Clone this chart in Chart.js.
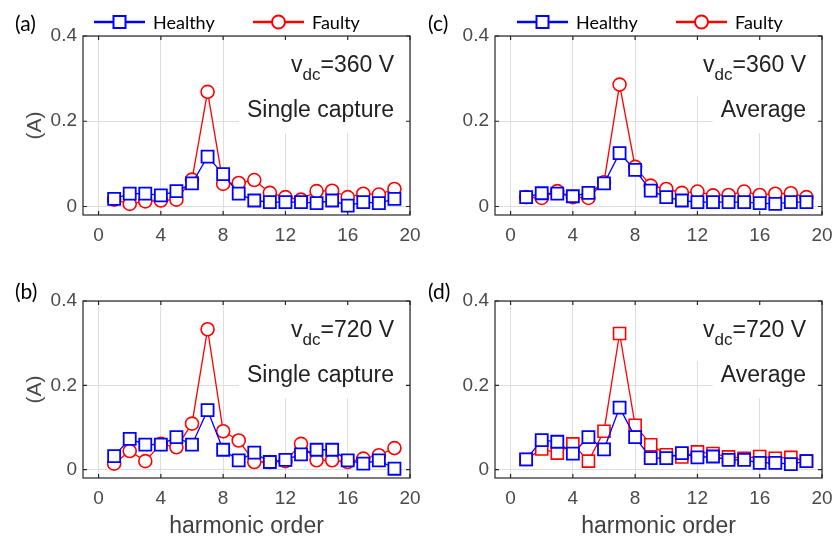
<!DOCTYPE html>
<html>
<head>
<meta charset="utf-8">
<script src="https://cdn.jsdelivr.net/npm/chart.js@4/dist/chart.umd.min.js"></script>
<style>
  body { margin: 0; background: #fff; width: 835px; height: 539px; position: relative; overflow: hidden; }
  canvas { position: absolute; }
</style>
</head>
<body>
<canvas id="pa" width="430" height="260" style="left:0;top:0;width:430px;height:260px"></canvas>
<canvas id="pb" width="430" height="279" style="left:0;top:260px;width:430px;height:279px"></canvas>
<canvas id="pc" width="420" height="260" style="left:415px;top:0;width:420px;height:260px"></canvas>
<canvas id="pd" width="420" height="279" style="left:415px;top:260px;width:420px;height:279px"></canvas>
<script>
// data
const harmonics = [1, 2, 3, 4, 5, 6, 7, 8, 9, 10, 11, 12, 13, 14, 15, 16, 17, 18, 19];
const xTickVals = [0, 4, 8, 12, 16, 20];
const yTickVals = [0, 0.2, 0.4];
const seriesNames = ['Healthy', 'Faulty'];

// (a) vdc=360 V, single capture
const healthyA = [0.018, 0.030, 0.030, 0.026, 0.036, 0.054, 0.117, 0.076, 0.030, 0.014, 0.010, 0.010, 0.010, 0.008, 0.014, 0.002, 0.010, 0.008, 0.018];
const faultyA  = [0.016, 0.006, 0.012, 0.014, 0.016, 0.063, 0.269, 0.053, 0.055, 0.062, 0.032, 0.022, 0.016, 0.036, 0.037, 0.022, 0.030, 0.028, 0.041];
// (c) vdc=360 V, average
const healthyC = [0.022, 0.031, 0.030, 0.024, 0.032, 0.054, 0.125, 0.086, 0.037, 0.022, 0.014, 0.010, 0.010, 0.010, 0.010, 0.008, 0.006, 0.010, 0.010];
const faultyC  = [0.022, 0.020, 0.036, 0.022, 0.020, 0.057, 0.286, 0.093, 0.049, 0.041, 0.032, 0.035, 0.026, 0.027, 0.035, 0.027, 0.030, 0.031, 0.022];
// (b) vdc=720 V, single capture
const healthyB = [0.032, 0.073, 0.059, 0.059, 0.077, 0.059, 0.141, 0.047, 0.022, 0.040, 0.018, 0.023, 0.036, 0.047, 0.047, 0.022, 0.014, 0.022, 0.002];
const faultyB  = [0.014, 0.044, 0.020, 0.061, 0.053, 0.109, 0.333, 0.091, 0.069, 0.018, 0.018, 0.020, 0.061, 0.022, 0.022, 0.018, 0.026, 0.034, 0.051];
// (d) vdc=720 V, average
const healthyD = [0.024, 0.070, 0.066, 0.038, 0.077, 0.048, 0.147, 0.077, 0.027, 0.027, 0.039, 0.029, 0.031, 0.023, 0.023, 0.016, 0.016, 0.013, 0.020];
const faultyD  = [0.024, 0.049, 0.039, 0.061, 0.020, 0.091, 0.323, 0.105, 0.059, 0.035, 0.030, 0.042, 0.038, 0.030, 0.027, 0.031, 0.027, 0.029, 0.020];

const panels = [
  { id: 'pa', letter: '(a)', healthy: healthyA, faulty: faultyA, faultyMarker: 'circle', vdc: '=360 V', mode: 'Single capture',
    top: true, left: true, yw: 83, padTop: 36, padRight: 20, xh: 45 },
  { id: 'pc', letter: '(c)', healthy: healthyC, faulty: faultyC, faultyMarker: 'circle', vdc: '=360 V', mode: 'Average',
    top: true, left: false, yw: 80, padTop: 36, padRight: 13, xh: 45 },
  { id: 'pb', letter: '(b)', healthy: healthyB, faulty: faultyB, faultyMarker: 'circle', vdc: '=720 V', mode: 'Single capture',
    top: false, left: true, yw: 83, padTop: 41, padRight: 20, xh: 61 },
  { id: 'pd', letter: '(d)', healthy: healthyD, faulty: faultyD, faultyMarker: 'rect', vdc: '=720 V', mode: 'Average',
    top: false, left: false, yw: 80, padTop: 41, padRight: 13, xh: 61 }
];

const SANS = '"Liberation Sans", Arial, sans-serif';
const LEG = 'Lato, "Open Sans", sans-serif';
const tickColor = '#4a4a4a';

function pts(arr) {
  return arr.map((y, i) => ({ x: harmonics[i], y: y }));
}

function drawMarker(ctx, style, x, y, color) {
  ctx.save();
  ctx.strokeStyle = color;
  ctx.fillStyle = '#fff';
  ctx.lineWidth = 2;
  ctx.beginPath();
  if (style === 'circle') ctx.arc(x, y, 6.5, 0, Math.PI * 2);
  else ctx.rect(x - 6, y - 6, 12, 12);
  ctx.fill();
  ctx.stroke();
  ctx.restore();
}

function makeDeco(p) {
  return {
    id: 'deco' + p.id,
    beforeDatasetsDraw(chart) {
      const { ctx, chartArea: a } = chart;
      const R = a.right - 16;
      const y1 = a.top + 36, y2 = a.top + 81;
      ctx.save();
      ctx.font = '23px ' + SANS;
      const w1 = ctx.measureText(p.vdc).width;
      const w3 = ctx.measureText('v').width;
      const wm = ctx.measureText(p.mode).width;
      ctx.font = '17px ' + SANS;
      const w2 = ctx.measureText('dc').width;
      const vx = R - w1 - w2 - w3;
      // white boxes behind the text (hide grid like the original)
      ctx.fillStyle = '#fff';
      ctx.fillRect(vx - 8, a.top + 1, a.right - vx + 7, 59);
      ctx.fillRect(R - wm - 8, a.top + 59, wm + 8 + (a.right - R) - 1, 38);
      ctx.fillStyle = '#222';
      ctx.textBaseline = 'alphabetic';
      ctx.textAlign = 'left';
      ctx.font = '23px ' + SANS;
      ctx.fillText('v', vx, y1);
      ctx.fillText(p.vdc, R - w1, y1);
      ctx.fillText(p.mode, R - wm, y2);
      ctx.font = '17px ' + SANS;
      ctx.fillText('dc', R - w1 - w2, y1 + 8);
      ctx.restore();
    },
    afterDatasetsDraw(chart) {
      const { ctx, chartArea: a, scales } = chart;
      ctx.save();
      ctx.strokeStyle = '#262626';
      ctx.lineWidth = 1.2;
      ctx.strokeRect(a.left, a.top, a.right - a.left, a.bottom - a.top);
      ctx.beginPath();
      xTickVals.forEach(v => {
        const x = scales.x.getPixelForValue(v);
        ctx.moveTo(x, a.bottom); ctx.lineTo(x, a.bottom - 4);
        ctx.moveTo(x, a.top); ctx.lineTo(x, a.top + 4);
      });
      yTickVals.forEach(v => {
        const y = scales.y.getPixelForValue(v);
        ctx.moveTo(a.left, y); ctx.lineTo(a.left + 4, y);
        ctx.moveTo(a.right, y); ctx.lineTo(a.right - 4, y);
      });
      ctx.stroke();
      ctx.restore();
    },
    afterDraw(chart) {
      const ctx = chart.ctx;
      ctx.save();
      ctx.fillStyle = '#000';
      ctx.font = '21px ' + LEG;
      ctx.textBaseline = 'middle';
      ctx.textAlign = 'left';
      ctx.fillText(p.letter, p.left ? 15 : 13, p.top ? 24 : 32);
      if (p.top) {
        const x0 = p.left ? 94 : 102;
        const items = [
          { x: x0, color: '#0000ff', style: 'rect', name: seriesNames[0] },
          { x: x0 + 159, color: '#ff0000', style: 'circle', name: seriesNames[1] }
        ];
        items.forEach(it => {
          const y = 22;
          ctx.strokeStyle = it.color;
          ctx.lineWidth = 2.5;
          ctx.beginPath();
          ctx.moveTo(it.x, y); ctx.lineTo(it.x + 51, y);
          ctx.stroke();
          drawMarker(ctx, it.style, it.x + 25.5, y, it.color);
          ctx.fillStyle = '#000';
          ctx.font = '18px ' + LEG;
          ctx.fillText(it.name, it.x + 59, y + 1);
        });
      }
      ctx.restore();
    }
  };
}

function makePanel(p) {
  const tickFont = { family: SANS, size: 19 };
  new Chart(document.getElementById(p.id), {
    type: 'line',
    data: {
      datasets: [{
        label: seriesNames[0],
        data: pts(p.healthy),
        borderColor: '#0000ff',
        borderWidth: 1.3,
        pointStyle: 'rect',
        pointRadius: 8.5,
        pointBorderWidth: 1.8,
        pointBorderColor: '#0000ff',
        pointBackgroundColor: '#fff',
        tension: 0
      }, {
        label: seriesNames[1],
        data: pts(p.faulty),
        borderColor: '#ff0000',
        borderWidth: 1.3,
        pointStyle: p.faultyMarker,
        pointRadius: p.faultyMarker === 'circle' ? 6.5 : 8.5,
        pointBorderWidth: 1.6,
        pointBorderColor: '#ff0000',
        pointBackgroundColor: '#fff',
        tension: 0
      }]
    },
    options: {
      responsive: false,
      animation: false,
      events: [],
      layout: { padding: { left: 0, top: p.padTop, right: p.padRight, bottom: 0 } },
      plugins: { legend: { display: false }, tooltip: { enabled: false } },
      scales: {
        x: {
          type: 'linear',
          min: -1,
          max: 20,
          afterBuildTicks: s => { s.ticks = xTickVals.map(v => ({ value: v })); },
          afterFit: s => { s.height = p.xh; s.paddingLeft = 0; s.paddingRight = 0; },
          grid: { color: '#dedede', lineWidth: 1, drawTicks: false },
          border: { display: false },
          ticks: { padding: 9, color: tickColor, font: tickFont, maxRotation: 0, autoSkip: false },
          title: {
            display: !p.top,
            text: 'harmonic order',
            color: '#404040',
            font: { family: SANS, size: 23, lineHeight: 1 },
            padding: { top: 0, bottom: 1 }
          }
        },
        y: {
          min: -0.02,
          max: 0.4,
          afterBuildTicks: s => { s.ticks = yTickVals.map(v => ({ value: v })); },
          afterFit: s => { s.width = p.yw; s.paddingTop = 0; s.paddingBottom = 0; },
          grid: { color: '#dedede', lineWidth: 1, drawTicks: false },
          border: { display: false },
          ticks: {
            padding: 6, color: tickColor, font: tickFont,
            callback: v => (v === 0 ? '0' : v.toFixed(1))
          },
          title: {
            display: p.left,
            text: '(A)',
            color: '#4a4a4a',
            font: { family: SANS, size: 21 },
            padding: { top: 23, bottom: 0 }
          }
        }
      }
    },
    plugins: [makeDeco(p)]
  });
}

panels.forEach(makePanel);
</script>
</body>
</html>
